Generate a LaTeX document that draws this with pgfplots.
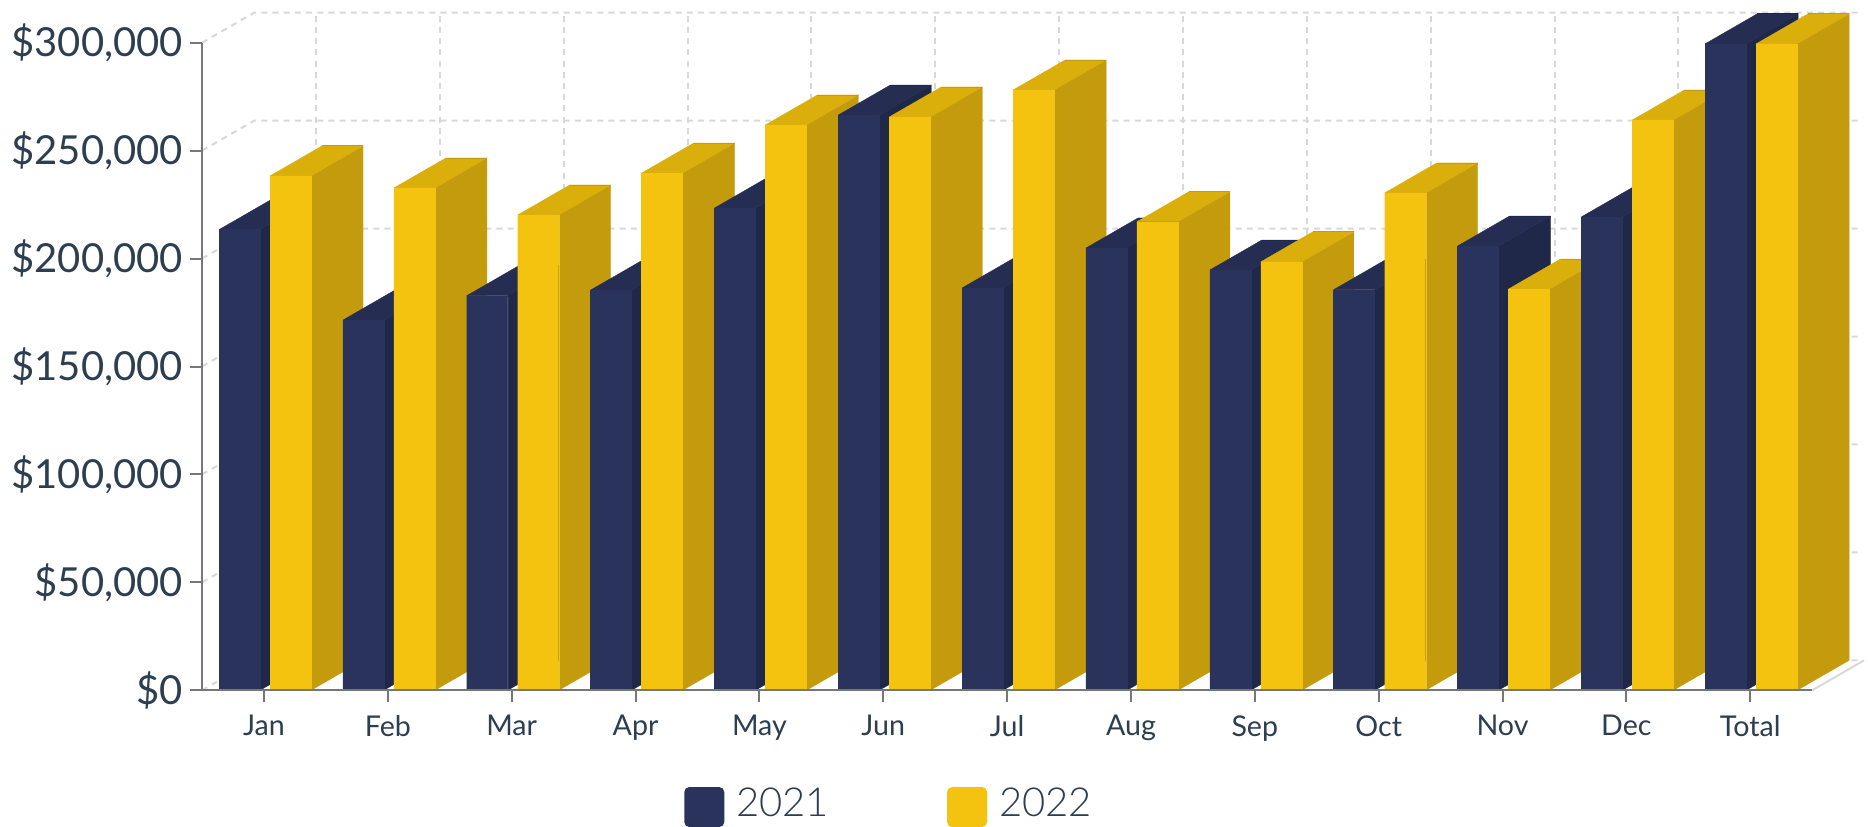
\documentclass[border=0pt]{standalone}
\usepackage{fontspec}
\setmainfont{Lato}
\newfontfamily\lightfont{Lato Light}
\usepackage{pgfplots}
\pgfplotsset{compat=1.18}

\definecolor{navyF}{HTML}{2A335B}
\definecolor{navyS}{HTML}{1F2849}
\definecolor{navyT}{HTML}{252D52}
\definecolor{yelF}{HTML}{F3C30F}
\definecolor{yelS}{HTML}{C39B0D}
\definecolor{yelT}{HTML}{DAAE0B}
\definecolor{txt}{HTML}{2C3E50}
\definecolor{axisgrey}{HTML}{777777}
\definecolor{gridgrey}{HTML}{D8D8D8}

% depth of the 3d effect, in axis units
\def\dx{0.42}
\def\dy{13.897}
\def\bw{0.331}

% one bar: left edge, value (in thousands), face colours
\newcommand{\threedbar}[5]{%
  \pgfmathsetmacro\xa{#1}%
  \pgfmathsetmacro\xb{#1+\bw}%
  \pgfmathsetmacro\xc{#1+\bw+\dx}%
  \pgfmathsetmacro\xd{#1+\dx}%
  \pgfmathsetmacro\ya{#2+\dy}%
  \addplot[fill=#4,draw=#4,line width=0.15pt,forget plot] coordinates {(\xb,0) (\xb,#2) (\xc,\ya) (\xc,\dy) (\xb,0)};
  \addplot[fill=#5,draw=#5,line width=0.15pt,forget plot] coordinates {(\xa,#2) (\xb,#2) (\xc,\ya) (\xd,\ya) (\xa,#2)};
  \addplot[#4,line width=0.4pt,forget plot] coordinates {(\xd,\ya) (\xc,\ya)};
  \addplot[fill=#3,draw=#3,line width=0.15pt,forget plot] coordinates {(\xa,0) (\xa,#2) (\xb,#2) (\xb,0) (\xa,0)};
}
% one category: position, 2021 value, 2022 value
\newcommand{\category}[3]{%
  \pgfmathsetmacro\na{#1-0.3634}%
  \pgfmathsetmacro\nb{#1+0.0485}%
  \threedbar{\na}{#2}{navyF}{navyS}{navyT}
  \threedbar{\nb}{#3}{yelF}{yelS}{yelT}
}

\begin{document}
\begin{tikzpicture}
\useasboundingbox (0,0) rectangle (934pt,413pt);
\begin{axis}[
    at={(101.05pt,67.85pt)}, anchor=south west,
    scale only axis, width=805pt, height=323.8pt,
    xmin=-0.5, xmax=12.5, ymin=0, ymax=300,
    clip=false, axis on top,
    axis x line=bottom, axis y line=left,
    axis line style={-,axisgrey,line width=1pt},
    tick style={axisgrey,line width=1pt},
    tick align=outside, major tick length=6pt,
    xtick={0,1,2,3,4,5,6,7,8,9,10,11,12},
    xticklabels={Jan,Feb,Mar,Apr,May,Jun,Jul,Aug,Sep,Oct,Nov,Dec,Total},
    ytick={0,50,100,150,200,250,300},
    yticklabels={\$0,{\$50,000},{\$100,000},{\$150,000},{\$200,000},{\$250,000},{\$300,000}},
    x tick label style={font=\fontsize{14.3}{16}\selectfont,text=txt,yshift=-3pt},
    y tick label style={font=\fontsize{20}{22}\selectfont,text=txt},
    legend columns=2,
    legend style={at={(0.4273,-0.178)},anchor=center,draw=none,fill=none,
      font=\fontsize{20}{22}\selectfont\lightfont,text=txt,
      /tikz/column 1/.style={column sep=4pt},
      /tikz/column 2/.style={column sep=57pt},
      /tikz/column 3/.style={column sep=4pt}},
    legend image code/.code={\fill[#1,rounded corners=2.5pt] (0pt,-11.55pt) rectangle (20pt,8.45pt);},
]
\addlegendimage{fill=navyF,draw=none}
\addlegendentry{2021}
\addlegendimage{fill=yelF,draw=none}
\addlegendentry{2022}

% grid on the back wall and the left wall
\pgfplotsinvokeforeach{0,50,100,150,200,250,300}{
  \pgfmathsetmacro\yb{#1+\dy}
  \addplot[gridgrey,line width=1pt,dash pattern=on 3pt off 2.6pt,forget plot]
    coordinates {(-0.5,#1) (-0.08,\yb) (12.905,\yb)};
}
\pgfplotsinvokeforeach{0,1,2,3,4,5,6,7,8,9,10,11,12}{
  \pgfmathsetmacro\xv{#1+\dx}
  \addplot[gridgrey,line width=1pt,dash pattern=on 3pt off 2.6pt,forget plot]
    coordinates {(\xv,\dy) (\xv,313.897)};
}
\addplot[gridgrey,line width=1pt,forget plot] coordinates {(12.5,0) (12.92,13.897)};

% values in thousands of dollars, 2021 then 2022
\category{0}{213.4}{238.3}
\category{1}{171.5}{232.7}
\category{2}{182.8}{220.2}
\category{3}{185.4}{239.6}
\category{4}{223.4}{261.9}
\category{5}{266.5}{265.6}
\category{6}{186.4}{278.1}
\category{7}{204.9}{217.1}
\category{8}{194.7}{198.5}
\category{9}{185.6}{230.4}
\category{10}{205.8}{185.9}
\category{11}{219.3}{264.2}
\category{12}{299.5}{299.5}
\end{axis}
\end{tikzpicture}
\end{document}
